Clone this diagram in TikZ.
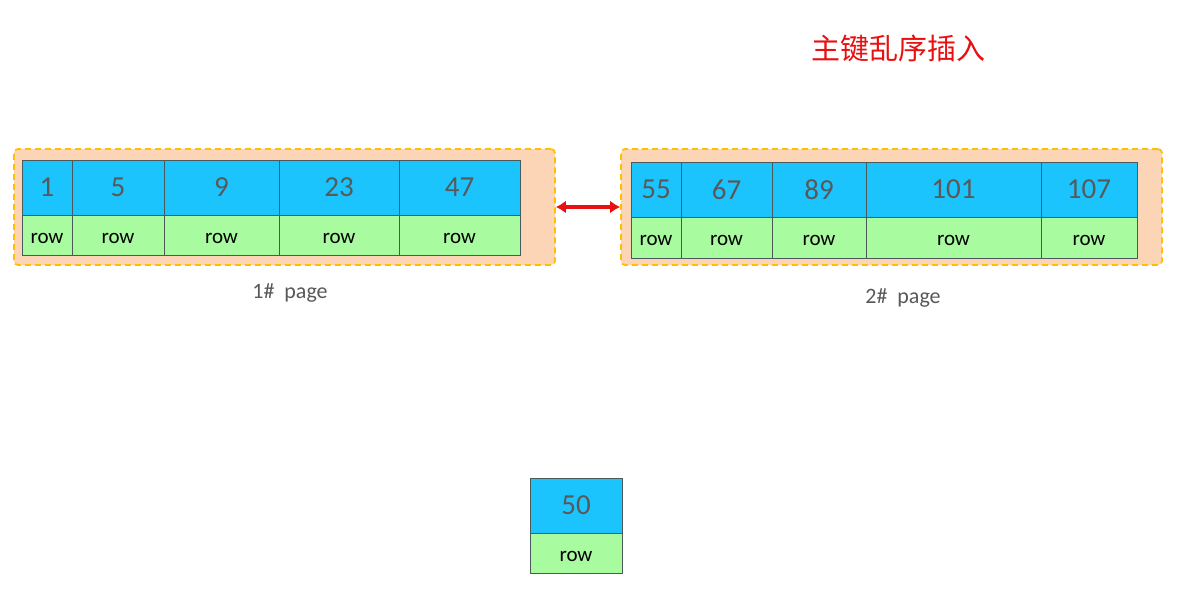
\documentclass[tikz,border=0pt]{standalone}
\usepackage{fontspec}
\setmainfont{Carlito}
\newfontfamily\cjk{Noto Sans CJK SC}
\usetikzlibrary{arrows.meta}
\definecolor{keyblue}{HTML}{1CC4FE}
\definecolor{rowgreen}{HTML}{A9FBA0}
\definecolor{peach}{HTML}{FBD5B5}
\definecolor{gold}{HTML}{FFC000}
\definecolor{cellline}{HTML}{4A5A5A}
\definecolor{numgray}{HTML}{595959}
\definecolor{titlered}{HTML}{E81010}
\tikzset{
  pagebox/.style={draw=gold, fill=peach, line width=1.8pt, dash pattern=on 6pt off 4pt, rounded corners=4pt, inner sep=0pt},
  keycell/.style={draw=cellline, fill=keyblue, line width=0.8pt, inner sep=0pt, text=numgray, font=\fontsize{29}{32}\selectfont},
  rowcell/.style={draw=cellline, fill=rowgreen, line width=0.8pt, inner sep=0pt, text=black, font=\fontsize{21}{24}\selectfont, text height=16pt, text depth=0pt},
  pagelabel/.style={text=numgray, font=\fontsize{22}{24}\selectfont},
  linkarrow/.style={{Latex[length=10pt,width=13pt]}-{Latex[length=10pt,width=13pt]}, draw=titlered, line width=3.6pt}
}
% \mkcol{name}{x1}{x2}{ytop}{ymid}{ybot}{number}
\newcommand\mkcol[7]{%
  \node[keycell, minimum width=#3-#2, minimum height=#5-#4] (#1k) at ({(#2+#3)/2},{(#4+#5)/2}) {#7};
  \node[rowcell, minimum width=#3-#2, minimum height=#6-#5] (#1r) at ({(#2+#3)/2},{(#5+#6)/2}) {row};
}
\begin{document}
\begin{tikzpicture}[x=1pt,y=-1pt]
\useasboundingbox (0,0) rectangle (1177,590);
\fill[white] (0,0) rectangle (1177,590);
% title
\node[text=titlered, font=\cjk\fontsize{29}{32}\selectfont] (title) at (898,48) {主键乱序插入};
% page boxes
\node[pagebox, minimum width=541, minimum height=116] (page1) at (284.5,207) {};
\node[pagebox, minimum width=541, minimum height=116] (page2) at (891.5,207) {};
% page 1 cells
\mkcol{a}{22}{72}{160}{215}{255}{1}
\mkcol{b}{72}{164}{160}{215}{255}{5}
\mkcol{c}{164}{279}{160}{215}{255}{9}
\mkcol{d}{279}{399}{160}{215}{255}{23}
\mkcol{e}{399}{520}{160}{215}{255}{47}
% page 2 cells
\mkcol{f}{631}{681}{162}{217}{258}{55}
\mkcol{g}{681}{772}{162}{217}{258}{67}
\mkcol{h}{772}{866}{162}{217}{258}{89}
\mkcol{i}{866}{1041}{162}{217}{258}{101}
\mkcol{j}{1041}{1137}{162}{217}{258}{107}
% labels
\node[pagelabel] (lab1) at (290,293) {1\#\ \ page};
\node[pagelabel] (lab2) at (903,298) {2\#\ \ page};
% link arrow
\draw[linkarrow] (page1.east) -- (page2.west);
% new record
\mkcol{n}{530}{622}{478}{533}{573}{50}
\end{tikzpicture}
\end{document}
